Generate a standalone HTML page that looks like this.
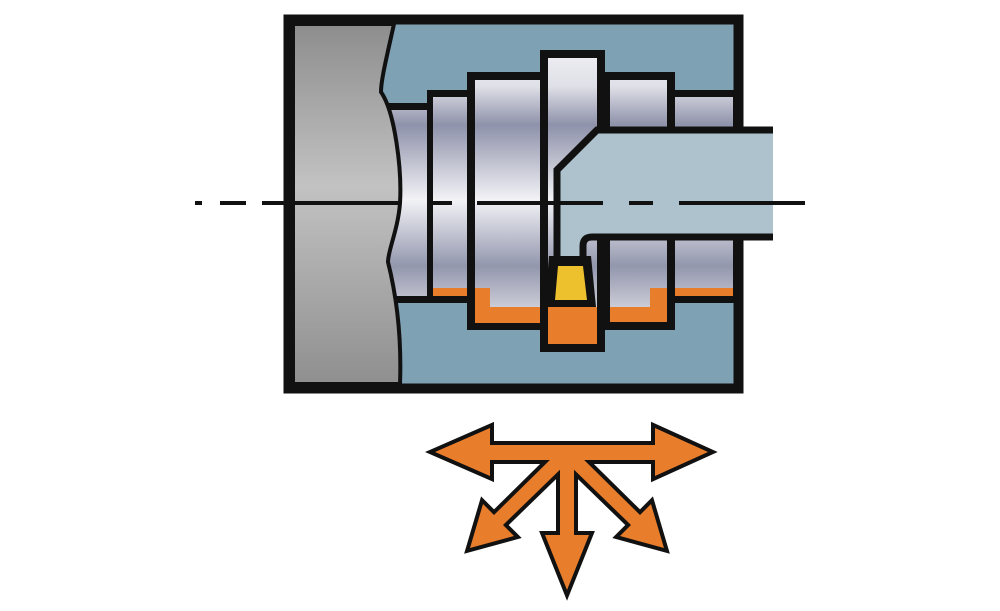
<!DOCTYPE html>
<html><head><meta charset="utf-8"><style>html,body{margin:0;padding:0;background:#fff;}svg{display:block}</style></head>
<body>
<svg width="1000" height="611" viewBox="0 0 1000 611" xmlns="http://www.w3.org/2000/svg">
<defs>
<linearGradient id="s" gradientUnits="userSpaceOnUse" x1="0" y1="50" x2="0" y2="350">
<stop offset="0" stop-color="#eeeef3"/><stop offset="0.12" stop-color="#e0e0e8"/><stop offset="0.25" stop-color="#8e92aa"/><stop offset="0.5" stop-color="#f2f2f6"/><stop offset="0.72" stop-color="#9397ad"/><stop offset="0.9" stop-color="#dcdce4"/><stop offset="1" stop-color="#cfd0da"/>
</linearGradient>
<linearGradient id="g" x1="0" y1="0" x2="0" y2="1">
<stop offset="0" stop-color="#8d8d8d"/><stop offset="0.45" stop-color="#c2c2c2"/><stop offset="1" stop-color="#8f8f8f"/>
</linearGradient>
</defs>
<rect x="290" y="21" width="447" height="366" fill="#7ea1b4" stroke="#111" stroke-width="7"/>
<g fill="#111">
<rect x="385" y="103" width="48" height="200"/>
<rect x="427" y="90" width="46" height="213"/>
<rect x="467" y="72" width="80" height="258"/>
<rect x="540" y="50" width="65" height="302"/>
<rect x="603" y="72" width="72" height="258"/>
<rect x="667" y="90" width="70" height="213"/>
</g>
<g fill="url(#s)">
<rect x="385" y="110" width="42" height="186"/>
<rect x="433" y="97" width="34" height="199"/>
<rect x="475" y="80" width="65" height="243"/>
<rect x="548" y="58" width="49" height="286"/>
<rect x="610" y="80" width="57" height="242"/>
<rect x="675" y="97" width="58" height="199"/>
</g>
<g fill="#e87d2c">
<rect x="433" y="288" width="34" height="8"/>
<rect x="475" y="288" width="15" height="35"/>
<rect x="475" y="307" width="65" height="16"/>
<rect x="548" y="307" width="49" height="37"/>
<rect x="610" y="307" width="57" height="15"/>
<rect x="650" y="288" width="17" height="34"/>
<rect x="675" y="288" width="58" height="8"/>
</g>
<path d="M293,24 L394,24 C386,60 381,80 381,92 C395,112 402,170 400,203 C398,230 388,250 388,262 C395,290 402,330 400,384 L293,384 Z" fill="url(#g)" stroke="#111" stroke-width="4"/>
<rect x="287" y="18" width="453" height="372" fill="none" stroke="#111" stroke-width="7"/>
<path d="M773,130 L597,130 L557,170 L557,262 L583,262 L583,246 Q583,237 592,237 L773,237" fill="#adc2cc" stroke="#111" stroke-width="7"/>
<polygon points="549,256 591,256 596,307 545,307" fill="#111"/>
<polygon points="558,266 583,266 587,300 555,300" fill="#edc02e"/>
<g stroke="#111" stroke-width="4">
<line x1="195" y1="203" x2="202" y2="203"/>
<line x1="220" y1="203" x2="246" y2="203"/>
<line x1="262" y1="203" x2="401" y2="203"/>
<line x1="433" y1="203" x2="452" y2="203"/>
<line x1="477" y1="203" x2="603" y2="203"/>
<line x1="629" y1="203" x2="653" y2="203"/>
<line x1="679" y1="203" x2="805" y2="203"/>
</g>
<g fill="#111" stroke="#111" stroke-width="8" stroke-linejoin="miter">
<polygon points="435,452 490,428 490,445 655,445 655,428 708,452 655,476 655,460 490,460 490,476"/>
<polygon points="560,450 574,450 574,535 589,535 567,590 545,535 560,535"/>
<polygon points="560,450 570,460 503,525 514,536 470,548 483,504 494,515"/>
<polygon points="574,450 564,460 631,525 620,536 664,548 651,504 640,515"/>
</g>
<g fill="#e87d2c">
<polygon points="435,452 490,428 490,445 655,445 655,428 708,452 655,476 655,460 490,460 490,476"/>
<polygon points="560,450 574,450 574,535 589,535 567,590 545,535 560,535"/>
<polygon points="560,450 570,460 503,525 514,536 470,548 483,504 494,515"/>
<polygon points="574,450 564,460 631,525 620,536 664,548 651,504 640,515"/>
</g>
</svg>
</body></html>
